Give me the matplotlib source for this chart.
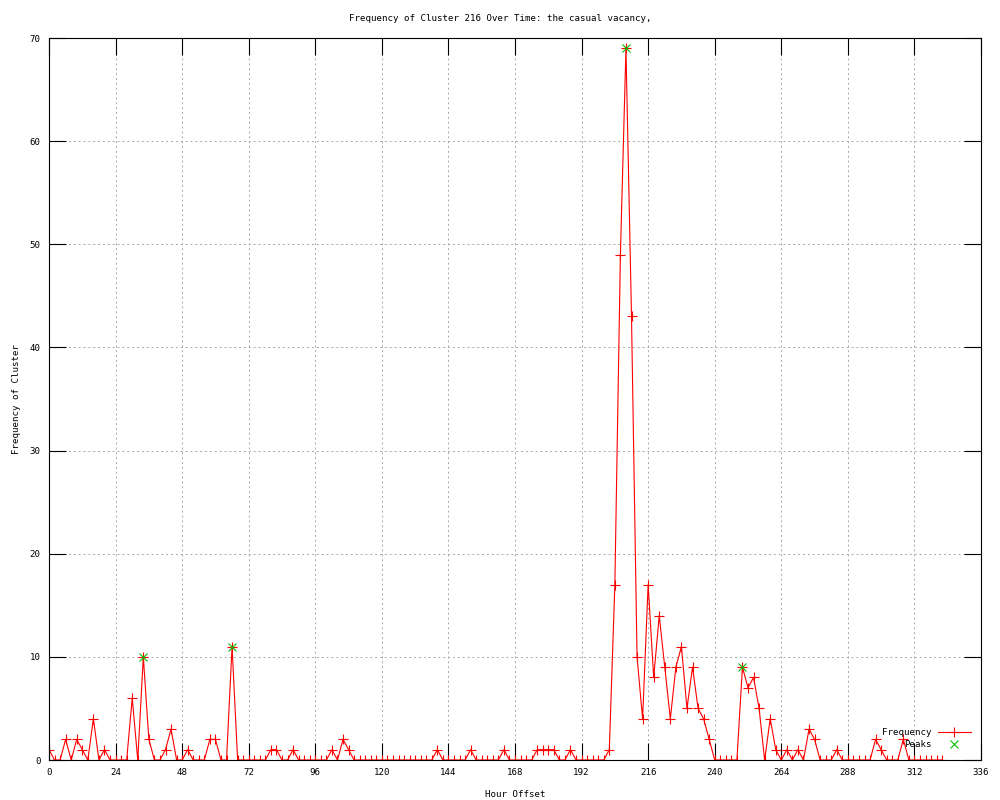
import numpy as np
import matplotlib
matplotlib.use('Agg')
import matplotlib.pyplot as plt

# hour offsets (every 2 hours) and cluster frequency
hours = np.arange(0, 323, 2)
freq = [1, 0, 0, 2, 0, 2, 1, 0, 4, 0, 1, 0,
        0, 0, 0, 6, 0, 10, 2, 0, 0, 1, 3, 0,
        0, 1, 0, 0, 0, 2, 2, 0, 0, 11, 0, 0,
        0, 0, 0, 0, 1, 1, 0, 0, 1, 0, 0, 0,
        0, 0, 0, 1, 0, 2, 1, 0, 0, 0, 0, 0,
        0, 0, 0, 0, 0, 0, 0, 0, 0, 0, 1, 0,
        0, 0, 0, 0, 1, 0, 0, 0, 0, 0, 1, 0,
        0, 0, 0, 0, 1, 1, 1, 1, 0, 0, 1, 0,
        0, 0, 0, 0, 0, 1, 17, 49, 69, 43, 10, 4,
        17, 8, 14, 9, 4, 9, 11, 5, 9, 5, 4, 2,
        0, 0, 0, 0, 0, 9, 7, 8, 5, 0, 4, 1,
        0, 1, 0, 1, 0, 3, 2, 0, 0, 0, 1, 0,
        0, 0, 0, 0, 0, 2, 1, 0, 0, 0, 2, 0,
        0, 0, 0, 0, 0, 0]

peak_hours = [34, 66, 208, 250]
peak_vals = [10, 11, 69, 9]

xticks = list(range(0, 337, 24))
yticks = list(range(0, 71, 10))

plt.rcParams['font.family'] = 'DejaVu Sans Mono'
fs = 6.6

fig = plt.figure(figsize=(10, 8), dpi=100)
ax = fig.add_axes([0.049, 0.05, 0.932, 0.9025])

ax.plot(hours, freq, color='red', linewidth=0.8, marker='+', markersize=6.5,
        markeredgewidth=0.8, label='Frequency')
ax.plot(peak_hours, peak_vals, linestyle='none', color='#00c000', marker='x',
        markersize=5.5, markeredgewidth=0.8, label='Peaks')

ax.set_xlim(0, 336)
ax.set_ylim(0, 70)
ax.set_xticks(xticks)
ax.set_yticks(yticks)
ax.tick_params(direction='in', length=12, width=0.8, top=True, right=True,
               labelsize=fs, pad=6)
ax.grid(True, color='#a8a8a8', linestyle=(0, (2, 3)), linewidth=0.7)
for s in ax.spines.values():
    s.set_linewidth(0.8)

fig.text(0.5, 0.977, 'Frequency of Cluster 216 Over Time: the casual vacancy,',
         fontsize=fs, ha='center', va='center')
ax.set_xlabel('Hour Offset', fontsize=fs, labelpad=9)
ax.set_ylabel('Frequency of Cluster', fontsize=fs, labelpad=6)

ax.legend(loc='lower right', bbox_to_anchor=(0.995, 0.008), frameon=False,
          markerfirst=False, fontsize=fs, handlelength=3.6, labelspacing=0.25,
          handletextpad=0.7, borderaxespad=0.2)

fig.savefig('out.png', dpi=100)
